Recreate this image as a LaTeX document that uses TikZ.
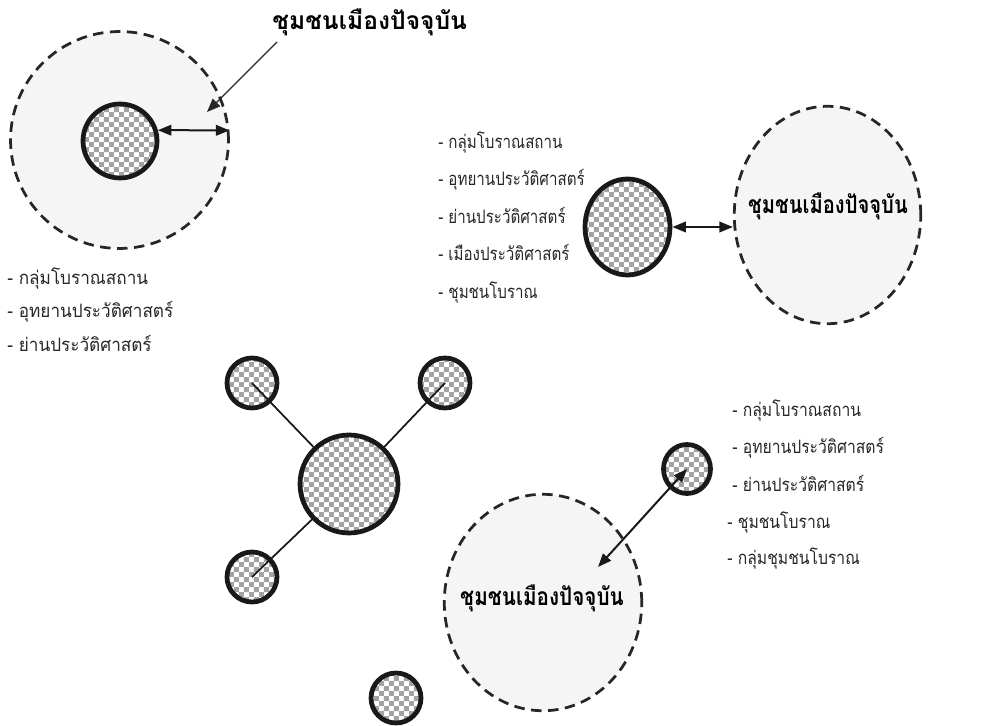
\documentclass[tikz,border=0pt]{standalone}
\usepackage{fontspec}
\setmainfont{Loma}[Script=Thai]
\usepackage{graphicx}
\usetikzlibrary{arrows.meta,shapes.geometric,patterns}
\pgfdeclarepatternformonly{sitechecker}{\pgfpointorigin}{\pgfpoint{0.2cm}{0.2cm}}{\pgfpoint{0.2cm}{0.2cm}}{%
  \pgfpathrectangle{\pgfpointorigin}{\pgfpoint{0.1cm}{0.1cm}}%
  \pgfpathrectangle{\pgfpoint{0.1cm}{0.1cm}}{\pgfpoint{0.1cm}{0.1cm}}%
  \pgfusepath{fill}}
\newcommand\sqz[2]{\scalebox{#1}[1]{#2}}
\begin{document}
\begin{tikzpicture}[x=0.02cm,y=-0.02cm,
  zone/.style={ellipse, draw=black!85, fill=black!4, line width=0.055cm,
    dash pattern=on 0.21cm off 0.13cm, inner sep=0pt},
  site/.style={ellipse, draw=black!90, line width=0.095cm, preaction={fill=white},
    pattern=sitechecker, pattern color=black!36, inner sep=0pt},
  item/.style={anchor=base west, inner sep=0pt, text=black!85, font=\fontsize{10.5}{12}\selectfont},
  label/.style={anchor=base, inner sep=0pt, font=\fontsize{14}{16}\selectfont\bfseries},
  dbl/.style={line width=0.04cm, draw=black!90,
    arrows={Triangle[length=0.27cm,width=0.21cm]-Triangle[length=0.27cm,width=0.21cm]}},
  ptr/.style={line width=0.025cm, draw=black!85, arrows={-Triangle[length=0.27cm,width=0.21cm]}},
  spoke/.style={line width=0.035cm, draw=black!90}
]
\useasboundingbox (0,0) rectangle (1000,726);

% ---------- top left ----------
\node[zone, minimum width=4.36cm, minimum height=4.34cm] (zTL) at (119.5,140) {};
\node[site, minimum width=1.48cm, minimum height=1.48cm] (sTL) at (120,141) {};
\draw[dbl] (sTL.16) -- (zTL.5);
\node[label, anchor=base west] (tTL) at (272,30) {ชุมชนเมืองปัจจุบัน};
\coordinate (pStart) at (277,42);
\coordinate (pEnd) at (207,112);
\draw[ptr] (pStart) -- (pEnd);
\node[item] (tl1) at (7,284) {\sqz{0.93}{- กลุ่มโบราณสถาน}};
\node[item] (tl2) at (7,317) {\sqz{0.93}{- อุทยานประวัติศาสตร์}};
\node[item] (tl3) at (7,351) {\sqz{0.93}{- ย่านประวัติศาสตร์}};

% ---------- top right ----------
\node[item] (tr1) at (438,149) {\sqz{0.82}{- กลุ่มโบราณสถาน}};
\node[item] (tr2) at (438,186) {\sqz{0.82}{- อุทยานประวัติศาสตร์}};
\node[item] (tr3) at (438,223) {\sqz{0.82}{- ย่านประวัติศาสตร์}};
\node[item] (tr4) at (438,260) {\sqz{0.82}{- เมืองประวัติศาสตร์}};
\node[item] (tr5) at (438,298) {\sqz{0.82}{- ชุมชนโบราณ}};
\node[site, minimum width=1.7cm, minimum height=1.92cm] (sTR) at (627.5,227) {};
\node[zone, minimum width=3.73cm, minimum height=4.35cm] (zTR) at (827.5,215) {};
\draw[dbl] (sTR.east) -- (sTR.east -| zTR.west);
\node[label] (lTR) at (828,214) {\sqz{0.82}{ชุมชนเมืองปัจจุบัน}};

% ---------- middle cluster ----------
\node[site, minimum width=1.96cm, minimum height=1.96cm] (c) at (349,484) {};
\node[site, minimum width=1.0cm, minimum height=1.0cm] (s1) at (252,383) {};
\node[site, minimum width=1.0cm, minimum height=1.0cm] (s2) at (445,383) {};
\node[site, minimum width=1.0cm, minimum height=1.0cm] (s3) at (252,577) {};
\node[site, minimum width=1.0cm, minimum height=1.0cm] (s4) at (396,698) {};
\draw[spoke] (s1.center) -- (c);
\draw[spoke] (s2.center) -- (c);
\draw[spoke] (s3.center) -- (c);

% ---------- bottom right ----------
\node[zone, minimum width=3.95cm, minimum height=4.33cm] (zBR) at (543,602.5) {};
\node[label] (lBR) at (542,605) {\sqz{0.84}{ชุมชนเมืองปัจจุบัน}};
\node[site, minimum width=0.94cm, minimum height=0.98cm] (sBR) at (687,469) {};
\coordinate (qEnd) at (598,567);
\draw[dbl] (sBR.center) -- (qEnd);
\node[item] (br1) at (732,416) {\sqz{0.85}{- กลุ่มโบราณสถาน}};
\node[item] (br2) at (732,453) {\sqz{0.85}{- อุทยานประวัติศาสตร์}};
\node[item] (br3) at (732,491) {\sqz{0.85}{- ย่านประวัติศาสตร์}};
\node[item] (br4) at (727,528) {\sqz{0.85}{- ชุมชนโบราณ}};
\node[item] (br5) at (727,564) {\sqz{0.85}{- กลุ่มชุมชนโบราณ}};
\end{tikzpicture}
\end{document}
